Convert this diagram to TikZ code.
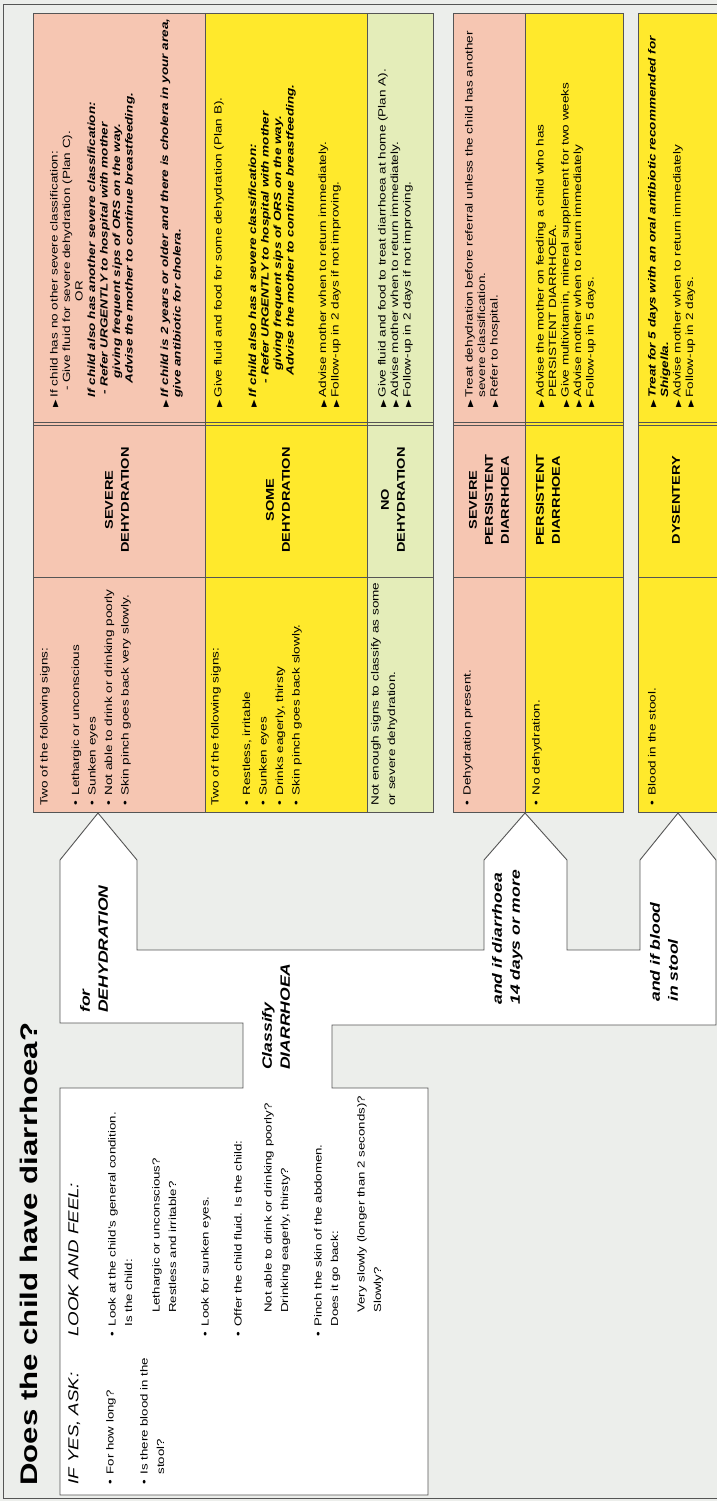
\documentclass[tikz,border=0pt]{standalone}
\usepackage{fontspec}
\setmainfont{Liberation Sans}
\newfontfamily\symfont{DejaVu Sans}
\definecolor{pagegrey}{HTML}{ECEEEB}
\definecolor{linegrey}{HTML}{555555}
\definecolor{severepink}{HTML}{F6C6B2}
\definecolor{someyellow}{HTML}{FFE92C}
\definecolor{nogreen}{HTML}{E4EDB9}
\newcommand{\bulmark}{\makebox[8pt][l]{\textbullet}}
\newcommand{\trimark}{\makebox[8pt][l]{\symfont\fontsize{7.5}{7.5}\selectfont ▶}}
\newcommand{\noind}{\hspace*{8pt}}
\newcommand{\bitext}[1]{{\bfseries\itshape #1}}

\begin{document}
\begin{tikzpicture}[x=1pt, y=1pt,
            rot_text/.style={rotate=90, xscale=1.3, inner sep=0pt, anchor=north west, align=left},
            title_text/.style={rot_text, font=\fontsize{24}{28}\selectfont\bfseries},
            ask_text/.style={rot_text, font=\fontsize{14.4}{17}\selectfont\itshape},
            box_text/.style={rot_text, font=\fontsize{10.2}{16.5}\selectfont},
            sign_text/.style={rot_text, font=\fontsize{10.4}{16.5}\selectfont},
            treat_text/.style={rot_text, font=\fontsize{10.4}{12.5}\selectfont},
            class_text/.style={rotate=90, xscale=1.3, inner sep=0pt, align=center, font=\fontsize{11.2}{16}\selectfont\bfseries},
            arrow_text/.style={rot_text, font=\fontsize{13.5}{18}\selectfont\bfseries\itshape},
            row_style/.style={draw=linegrey, line width=0.7pt},
            edge_style/.style={draw=linegrey, line width=0.7pt}]
            \useasboundingbox (0,0) rectangle (717,-1501);
            \fill[pagegrey] (0,0) rectangle (717,-1501);
            \draw[linegrey, line width=0.8pt] (3,-4) rectangle (730,-1498);

            \filldraw[row_style, fill=severepink] (33,-13) rectangle (205,-812);
            \filldraw[row_style, fill=someyellow] (205,-13) rectangle (367,-812);
            \filldraw[row_style, fill=nogreen] (367,-13) rectangle (433,-812);
            \filldraw[row_style, fill=severepink] (453,-13) rectangle (525,-812);
            \filldraw[row_style, fill=someyellow] (525,-13) rectangle (623,-812);
            \filldraw[row_style, fill=someyellow] (638,-13) rectangle (730,-812);
            \draw[edge_style] (33,-577) -- (433,-577);
            \draw[edge_style] (453,-577) -- (623,-577);
            \draw[edge_style] (638,-577) -- (730,-577);
            \draw[edge_style] (33,-422) -- (433,-422);
            \draw[edge_style] (33,-425) -- (433,-425);
            \draw[edge_style] (453,-422) -- (623,-422);
            \draw[edge_style] (453,-425) -- (623,-425);
            \draw[edge_style] (638,-422) -- (730,-422);
            \draw[edge_style] (638,-425) -- (730,-425);

            \filldraw[fill=white, draw=linegrey, line width=0.9pt] (60,-1495) -- (60,-1088) -- (243,-1088) -- (243,-1023)
                -- (60,-1023) -- (60,-860) -- (98,-813) -- (137,-860) -- (137,-950) -- (484,-950) -- (484,-860)
                -- (525,-813) -- (567,-860) -- (567,-950) -- (640,-950) -- (640,-860) -- (678,-813) -- (716,-860)
                -- (716,-1025) -- (332,-1025) -- (332,-1088) -- (428,-1088) -- (428,-1495) -- cycle;

            \node[title_text] (title) at (20,-1486) {Does the child have diarrhoea?};

            \node[ask_text] (ask) at (68,-1485) {IF YES, ASK:};
            \node[ask_text] (look) at (68,-1337) {LOOK AND FEEL:};
            \node[box_text] (a1) at (106,-1485) {\bulmark For how long?};
            \node[box_text] (a2) at (140,-1485) {\bulmark Is there blood in the\\\noind stool?};
            \node[box_text] (l1) at (108,-1337) {\bulmark Look at the child's general condition.\\\noind Is the child:};
            \node[box_text] (l2) at (152,-1313) {Lethargic or unconscious?\\Restless and irritable?};
            \node[box_text] (l3) at (201,-1337) {\bulmark Look for sunken eyes.};
            \node[box_text] (l4) at (234,-1337) {\bulmark Offer the child fluid. Is the child:};
            \node[box_text] (l5) at (264,-1313) {Not able to drink or drinking poorly?\\Drinking eagerly, thirsty?};
            \node[box_text] (l6) at (314,-1337) {\bulmark Pinch the skin of the abdomen.\\\noind Does it go back:};
            \node[box_text] (l7) at (357,-1313) {Very slowly (longer than 2 seconds)?\\Slowly?};

            \node[arrow_text] (for_dehyd) at (80,-1013) {for\\DEHYDRATION};
            \node[arrow_text] (classify) at (262,-1070) {Classify\\DIARRHOEA};
            \node[arrow_text] (for_days) at (492,-1005) {and if diarrhoea\\14 days or more};
            \node[arrow_text] (for_blood) at (650,-1002) {and if blood\\in stool};

            \node[sign_text] (s1) at (40,-806) {Two of the following signs:\\[15pt]\bulmark Lethargic or unconscious\\\bulmark Sunken eyes\\\bulmark Not able to drink or drinking poorly\\\bulmark Skin pinch goes back very slowly.};
            \node[sign_text] (s2) at (211,-806) {Two of the following signs:\\[15pt]\bulmark Restless, irritable\\\bulmark Sunken eyes\\\bulmark Drinks eagerly, thirsty\\\bulmark Skin pinch goes back slowly.};
            \node[sign_text] (s3) at (371,-806) {Not enough signs to classify as some\\or severe dehydration.};
            \node[sign_text] (s4) at (463,-806) {\bulmark Dehydration present.};
            \node[sign_text] (s5) at (532,-806) {\bulmark No dehydration.};
            \node[sign_text] (s6) at (648,-806) {\bulmark Blood in the stool.};

            \node[class_text] (c1) at (117,-500) {SEVERE\\DEHYDRATION};
            \node[class_text] (c2) at (278,-500) {SOME\\DEHYDRATION};
            \node[class_text] (c3) at (393,-500) {NO\\DEHYDRATION};
            \node[class_text] (c4) at (489,-500) {SEVERE\\PERSISTENT\\DIARRHOEA};
            \node[class_text] (c5) at (548,-500) {PERSISTENT\\DIARRHOEA};
            \node[class_text] (c6) at (676,-500) {DYSENTERY};

            \node[treat_text] (t1) at (50,-408) {\trimark If child has no other severe classification:\\
                \noind\hspace*{5pt}- Give fluid for severe dehydration (Plan C).\\
                \noind\hspace*{74pt}OR\\
                \noind\bitext{If child also has another severe classification:}\\
                \noind\hspace*{2pt}\bitext{- Refer URGENTLY to hospital with mother}\\
                \noind\hspace*{14.5pt}\bitext{giving frequent sips of ORS on the way.}\\
                \noind\hspace*{10.5pt}\bitext{Advise the mother to continue breastfeeding.}\\[23pt]
                \trimark\bitext{If child is 2 years or older and there is cholera in your area,}\\
                \noind\bitext{give antibiotic for cholera.}};
            \node[treat_text] (t2) at (214,-408) {\trimark Give fluid and food for some dehydration (Plan B).\\[22pt]
                \trimark\bitext{If child also has a severe classification:}\\
                \noind\hspace*{10.5pt}\bitext{- Refer URGENTLY to hospital with mother}\\
                \noind\hspace*{20.5pt}\bitext{giving frequent sips of ORS on the way.}\\
                \noind\hspace*{17pt}\bitext{Advise the mother to continue breastfeeding.}\\[20pt]
                \trimark Advise mother when to return immediately.\\
                \trimark Follow-up in 2 days if not improving.};
            \node[treat_text] (t3) at (378,-408) {\trimark Give fluid and food to treat diarrhoea at home (Plan A).\\
                \trimark Advise mother when to return immediately.\\
                \trimark Follow-up in 2 days if not improving.};
            \node[treat_text] (t4) at (465,-408) {\trimark Treat dehydration before referral unless the child has another\\
                \noind severe classification.\\
                \trimark Refer to hospital.};
            \node[treat_text] (t5) at (536,-408) {\trimark Advise the mother on feeding a child who has\\
                \noind PERSISTENT DIARRHOEA.\\
                \trimark Give multivitamin, mineral supplement for two weeks\\
                \trimark Advise mother when to return immediately\\
                \trimark Follow-up in 5 days.};
            \node[treat_text] (t6) at (648,-408) {\trimark\bitext{Treat for 5 days with an oral antibiotic recommended for}\\
                \noind\bitext{Shigella.}\\
                \trimark Advise mother when to return immediately\\
                \trimark Follow-up in 2 days.};
        \end{tikzpicture}
\end{document}
